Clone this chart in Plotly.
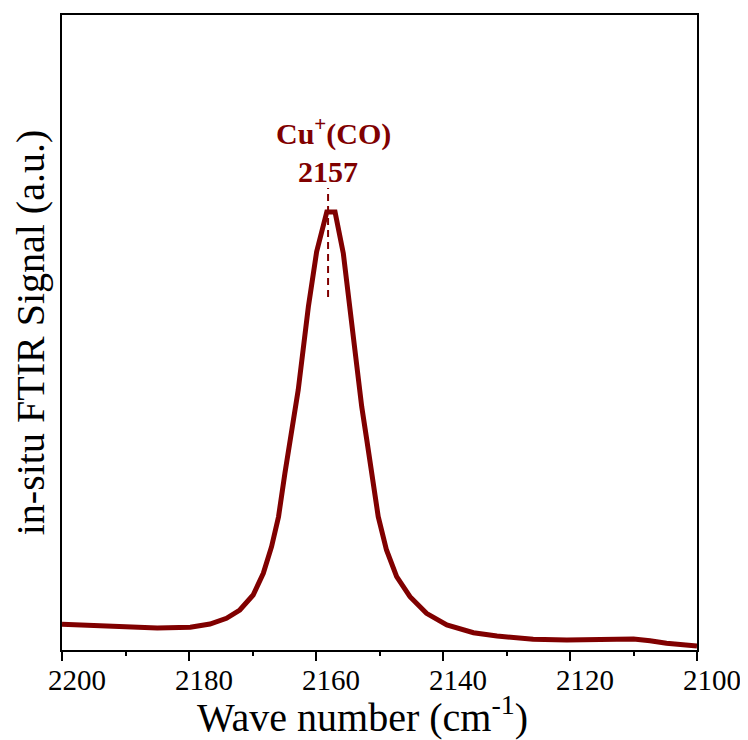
import plotly.graph_objects as go

# ---- data ----
wavenumber = [2200, 2195, 2190, 2185, 2179.8, 2176.7, 2174.1, 2172.0, 2169.9, 2168.3,
              2167.0, 2165.9, 2164.9, 2164.1, 2162.8, 2161.2, 2159.9, 2158.3, 2157.0,
              2155.7, 2154.4, 2152.8, 2152.0, 2151.2, 2150.2, 2148.9, 2147.3, 2145.2,
              2142.6, 2139.4, 2135.2, 2131.5, 2125.8, 2120.5, 2115.3, 2110, 2107.4,
              2104.8, 2100]
signal = [25.7, 24.5, 23.3, 22.0, 22.7, 26, 31.7, 40, 55, 76.7,
          103.3, 133.3, 176.7, 210, 260, 343.3, 398.3, 438, 438,
          396.7, 326.7, 243.3, 210, 176.7, 133.3, 100, 73.3, 53.3,
          36.7, 25, 17.3, 14, 10.7, 10, 10, 11, 9.3,
          6.7, 4]

peak_position = 2158.1
peak_marker_signal = [353, 462]
peak_species = "Cu<sup>+</sup>(CO)"
peak_label = "2157"
species_label_pos = [2157.2, 519]
number_label_pos = [2158.1, 479]

x_ticks = [2200, 2180, 2160, 2140, 2120, 2100]
x_title = "Wave number (cm<sup>-1</sup>)"
y_title = "in-situ FTIR Signal (a.u.)"

color = "#800000"
font_family = "Liberation Serif, Times New Roman, serif"

fig = go.Figure()
fig.add_trace(go.Scatter(x=wavenumber, y=signal, mode="lines",
                         line=dict(color=color, width=5), showlegend=False))
fig.add_trace(go.Scatter(x=[peak_position, peak_position], y=peak_marker_signal,
                         mode="lines", line=dict(color=color, width=2, dash="7px,5px"),
                         showlegend=False))

fig.add_annotation(x=species_label_pos[0], y=species_label_pos[1], text="<b>" + peak_species + "</b>",
                   showarrow=False, font=dict(family=font_family, size=30, color=color),
                   xanchor="center", yanchor="middle")
fig.add_annotation(x=number_label_pos[0], y=number_label_pos[1], text="<b>" + peak_label + "</b>",
                   showarrow=False, font=dict(family=font_family, size=30, color=color),
                   xanchor="center", yanchor="middle")
# x-axis title (slightly left of centre in the reference)
fig.add_annotation(xref="paper", yref="paper", x=0.474, y=-0.058, text=x_title,
                   showarrow=False, font=dict(family=font_family, size=40, color="black"),
                   xanchor="center", yanchor="top")

# page body has an 8px default margin, so the figure is drawn 8px in from the corner
fig.update_layout(
    width=740, height=732,
    margin=dict(l=54, r=51, t=7, b=90),
    paper_bgcolor="white", plot_bgcolor="white",
    font=dict(family=font_family, color="black"),
)
fig.update_xaxes(
    range=[2200, 2100], autorange=False, automargin=False,
    tickvals=x_ticks, ticktext=[str(t) for t in x_ticks],
    ticks="outside", ticklen=9, tickwidth=1.5, tickcolor="black",
    minor=dict(dtick=10, ticks="outside", ticklen=4, tickwidth=1.5, tickcolor="black"),
    tickfont=dict(size=29, family=font_family),
    ticklabelshift=-15, ticklabelstandoff=-6,
    showline=True, linecolor="black", linewidth=1.5, mirror=True,
    showgrid=False, zeroline=False,
)
fig.update_yaxes(
    range=[0, 635], autorange=False, automargin=False,
    showticklabels=False, ticks="",
    showline=True, linecolor="black", linewidth=1.5, mirror=True,
    showgrid=False, zeroline=False,
    title=dict(text=y_title, font=dict(size=40, family=font_family), standoff=8),
)

fig.write_html("out.html")
